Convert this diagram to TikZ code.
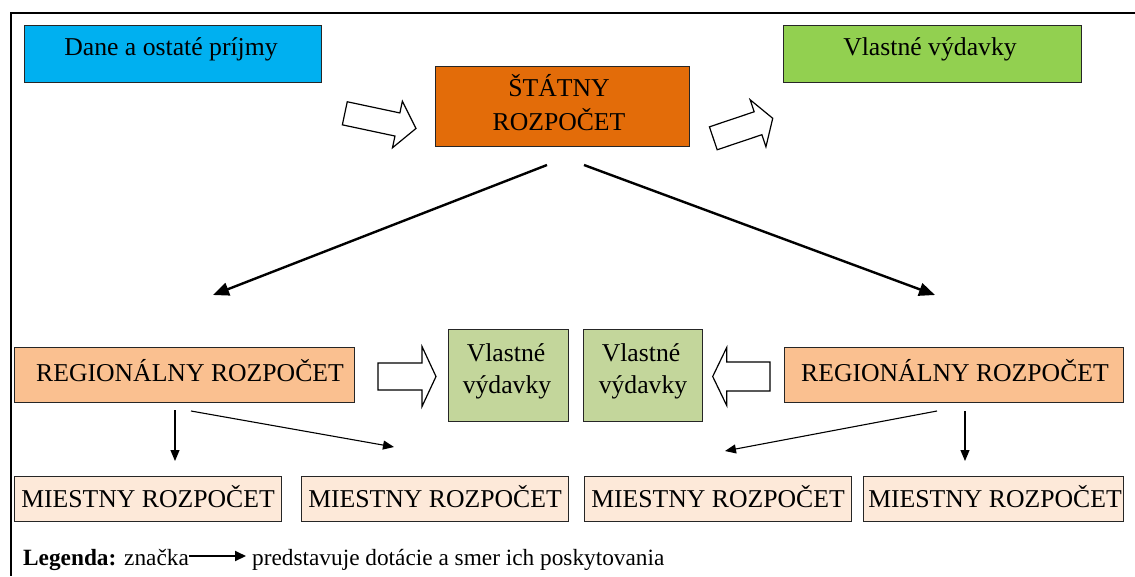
\documentclass[tikz,border=0pt]{standalone}
\usepackage{fontspec}
\setmainfont{Liberation Serif}
\usetikzlibrary{arrows.meta}

\definecolor{taxblue}{HTML}{00B0F0}
\definecolor{stateorange}{HTML}{E36C09}
\definecolor{owngreen}{HTML}{92D050}
\definecolor{regpeach}{HTML}{FAC090}
\definecolor{localpeach}{HTML}{FDE9D9}
\definecolor{olivebox}{HTML}{C3D69B}
\definecolor{edge}{HTML}{262626}

\newcommand\boxfont{\fontsize{25.7pt}{33pt}\selectfont}
\newcommand\legfont{\fontsize{23.3pt}{28pt}\selectfont}

\tikzset{
  box/.style={draw=edge, line width=0.9pt, inner sep=0pt, rectangle},
  txt/.style={inner sep=0pt, font=\boxfont, text=black},
  legtext/.style={inner sep=0pt, font=\legfont, text=black},
  frame/.style={line width=1.6pt, black},
  bigarrow/.style={line width=2.4pt, -{Triangle[length=16pt,width=13pt]}},
  smallarrow/.style={line width=1.1pt, -{Triangle[length=11pt,width=9pt]}},
  hollow/.style={draw=black, fill=white, line width=1.2pt, line join=miter},
  pics/blockarrow/.style n args={4}{code={
    \draw[hollow] (0,{-#2/2}) -- ({#1-#4},{-#2/2}) -- ({#1-#4},{-#3/2}) -- (#1,0)
      -- ({#1-#4},{#3/2}) -- ({#1-#4},{#2/2}) -- (0,{#2/2}) -- cycle;
  }}
}

\begin{document}
\begin{tikzpicture}[x=1pt, y=-1pt]
\useasboundingbox (0,0) rectangle (1135,576);

% outer frame (top and left edges)
\draw[frame] (1135,13) -- (11,13) -- (11,576);

% top row
\node[box, fill=taxblue, minimum width=297pt, minimum height=57pt] (dane) at (172.5,53.5) {};
\node[txt, anchor=base] (danet) at (171,55) {Dane a ostaté príjmy};

\node[box, fill=stateorange, minimum width=254pt, minimum height=80pt] (state) at (562,106) {};
\node[txt, anchor=base] (statet1) at (559,96.7) {ŠTÁTNY};
\node[txt, anchor=base] (statet2) at (559,130) {ROZPOČET};

\node[box, fill=owngreen, minimum width=298pt, minimum height=57pt] (owntop) at (932,53.5) {};
\node[txt, anchor=base] (owntopt) at (930,55) {Vlastné výdavky};

% block arrows of the top row
\pic[rotate=-12] at (344.8,113.3) {blockarrow={72.8}{23.6}{47.6}{19}};
\pic[rotate=18.6] at (713.3,138.3) {blockarrow={62.7}{24.2}{49.6}{15.5}};

% regional level
\node[box, fill=regpeach, minimum width=340pt, minimum height=55pt] (regl) at (184,374.5) {};
\node[txt, anchor=base] (reglt) at (190,381) {REGIONÁLNY ROZPOČET};

\node[box, fill=regpeach, minimum width=339pt, minimum height=55pt] (regr) at (953.5,374.5) {};
\node[txt, anchor=base] (regrt) at (955,381) {REGIONÁLNY ROZPOČET};

\node[box, fill=olivebox, minimum width=120pt, minimum height=92pt] (ownl) at (508,375) {};
\node[txt, anchor=base] (ownlt1) at (506,361) {Vlastné};
\node[txt, anchor=base] (ownlt2) at (507,393) {výdavky};

\node[box, fill=olivebox, minimum width=119pt, minimum height=92pt] (ownr) at (642.5,375) {};
\node[txt, anchor=base] (ownrt1) at (641,361) {Vlastné};
\node[txt, anchor=base] (ownrt2) at (643,393) {výdavky};

\pic at (378,376.5) {blockarrow={58}{27}{60}{14}};
\pic[rotate=180] at (770,376.5) {blockarrow={57.3}{29}{58}{14}};

% local level
\node[box, fill=localpeach, minimum width=267pt, minimum height=45pt] (loc1) at (147.5,498.5) {};
\node[txt, anchor=base] (loc1t) at (148,507) {MIESTNY ROZPOČET};
\node[box, fill=localpeach, minimum width=267pt, minimum height=45pt] (loc2) at (434.5,498.5) {};
\node[txt, anchor=base] (loc2t) at (435,507) {MIESTNY ROZPOČET};
\node[box, fill=localpeach, minimum width=267pt, minimum height=45pt] (loc3) at (717.5,498.5) {};
\node[txt, anchor=base] (loc3t) at (718,507) {MIESTNY ROZPOČET};
\node[box, fill=localpeach, minimum width=260pt, minimum height=45pt] (loc4) at (993,498.5) {};
\node[txt, anchor=base] (loc4t) at (995,507) {MIESTNY ROZPOČET};

% grant flows from the state budget
\coordinate (sl) at (547,165);
\coordinate (sr) at (584,165);
\coordinate (tl) at (213,295);
\coordinate (tr) at (935,295);
\draw[bigarrow] (sl) -- (tl);
\draw[bigarrow] (sr) -- (tr);

% grant flows from the regional budgets
\coordinate (ld0) at (175,410);
\coordinate (ld1) at (175,461);
\coordinate (lx0) at (191,411);
\coordinate (lx1) at (394,447);
\coordinate (rx0) at (937,411);
\coordinate (rx1) at (725,451);
\coordinate (rd0) at (965,411);
\coordinate (rd1) at (965,461);
\draw[smallarrow] (ld0) -- (ld1);
\draw[smallarrow] (lx0) -- (lx1);
\draw[smallarrow] (rx0) -- (rx1);
\draw[smallarrow] (rd0) -- (rd1);

% legend
\node[legtext, anchor=base west] (leg) at (23,565) {\textbf{Legenda:} značka};
\coordinate (la) at (189,556);
\coordinate (lb) at (246,556);
\draw[line width=2pt, -{Triangle[length=11pt,width=10pt]}] (la) -- (lb);
\node[legtext, anchor=base west] (legt) at (252,565) {predstavuje dotácie a smer ich poskytovania};
\end{tikzpicture}
\end{document}
